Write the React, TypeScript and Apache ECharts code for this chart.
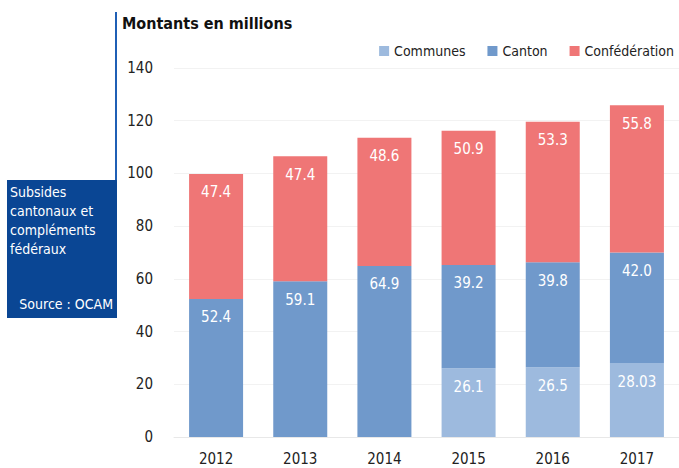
import React, { useEffect, useRef } from "react";
import * as echarts from "echarts";

const years = ["2012", "2013", "2014", "2015", "2016", "2017"];
const communes: (number | null)[] = [null, null, null, 26.1, 26.5, 28.03];
const canton = [52.4, 59.1, 64.9, 39.2, 39.8, 42.0];
const confederation = [47.4, 47.4, 48.6, 50.9, 53.3, 55.8];

const FONT = "'DejaVu Sans Condensed', 'Liberation Sans Narrow', 'Open Sans', sans-serif";

export default function App() {
  const ref = useRef<HTMLDivElement>(null);
  useEffect(() => {
    if (!ref.current) return;
    const chart = echarts.init(ref.current, undefined, { renderer: "svg" });
    const fmt = (p: any) => {
      const v = p.value;
      if (v == null) return "";
      return Number.isInteger(v) ? v.toFixed(1) : String(v);
    };
    const label = {
      show: true,
      position: "insideTop" as const,
      distance: 11,
      color: "#ffffff",
      fontSize: 15,
      fontFamily: FONT,
      formatter: fmt,
    };
    const mk = (name: string, data: any[], color: string) => ({
      name,
      type: "bar" as const,
      stack: "t",
      data,
      barWidth: 54,
      itemStyle: { color },
      label,
    });
    chart.setOption({
      animation: false,
      textStyle: { fontFamily: FONT },
      title: {
        text: "Montants en millions",
        left: 117,
        top: 10,
        textStyle: { fontSize: 16, fontWeight: "bold", color: "#111", fontFamily: FONT },
      },
      legend: {
        top: 39,
        right: 0,
        itemWidth: 10,
        itemHeight: 10,
        itemGap: 22,
        icon: "rect",
        textStyle: { fontSize: 14, color: "#222", fontFamily: FONT },
        data: ["Communes", "Canton", "Confédération"],
      },
      grid: { left: 174, top: 68, width: 517, height: 369, containLabel: false },
      xAxis: {
        type: "category",
        data: years,
        axisLine: { lineStyle: { color: "#e8e8e8", width: 1 } },
        axisTick: { show: false },
        axisLabel: { color: "#222", fontSize: 15, margin: 14, fontFamily: FONT },
      },
      yAxis: {
        type: "value",
        min: 0,
        max: 140,
        interval: 20,
        axisLine: { show: false },
        axisTick: { show: false },
        splitLine: { lineStyle: { color: "#f2f2f2", width: 1 } },
        axisLabel: { color: "#222", fontSize: 15, margin: 21, fontFamily: FONT },
      },
      series: [
        mk("Communes", communes, "#9dbade"),
        mk("Canton", canton, "#7099cb"),
        mk("Confédération", confederation, "#ef7676"),
      ],
      graphic: [
        {
          type: "line",
          shape: { x1: 116, y1: 12, x2: 116, y2: 181 },
          style: { stroke: "#1f5fb5", lineWidth: 2 },
        },
        {
          type: "rect",
          shape: { x: 7, y: 180, width: 110, height: 138 },
          style: { fill: "#0a4694" },
        },
        {
          type: "text",
          x: 10,
          y: 182,
          style: {
            text: "Subsides\ncantonaux et\ncompléments\nfédéraux",
            fill: "#ffffff",
            fontSize: 14,
            lineHeight: 19,
            fontFamily: FONT,
          },
        },
        {
          type: "text",
          x: 113,
          y: 297,
          style: {
            text: "Source : OCAM",
            fill: "#ffffff",
            fontSize: 14,
            align: "right",
            fontFamily: FONT,
          },
        },
      ],
    });
    return () => chart.dispose();
  }, []);
  return <div ref={ref} style={{ width: 679, height: 468, position: "absolute", left: 0, top: 0 }} />;
}
